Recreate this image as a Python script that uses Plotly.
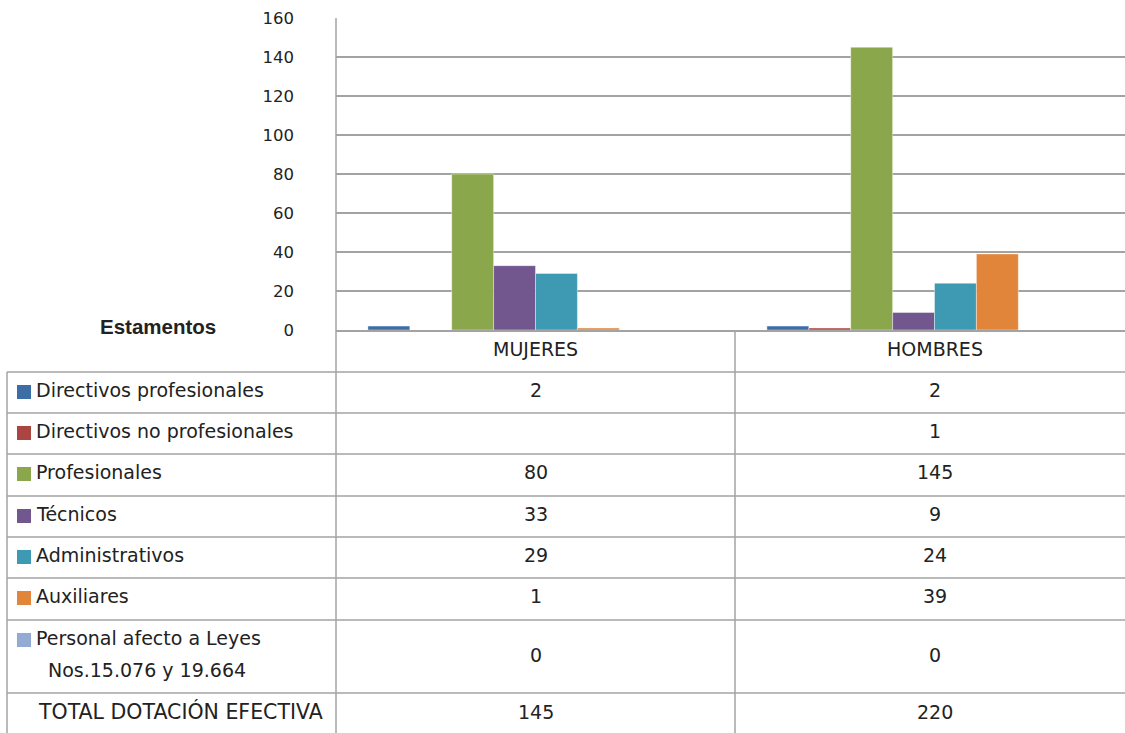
import plotly.graph_objects as go

categories = ["MUJERES", "HOMBRES"]
series_names = [
    "Directivos profesionales",
    "Directivos no profesionales",
    "Profesionales",
    "Técnicos",
    "Administrativos",
    "Auxiliares",
    "Personal afecto a Leyes\nNos.15.076 y 19.664",
]
directivos_prof = [2, 2]
directivos_no_prof = [None, 1]
profesionales = [80, 145]
tecnicos = [33, 9]
administrativos = [29, 24]
auxiliares = [1, 39]
personal_leyes = [0, 0]
total_label = "TOTAL DOTACIÓN EFECTIVA"
totales = [145, 220]
y_ticks = [0, 20, 40, 60, 80, 100, 120, 140, 160]

series_values = [directivos_prof, directivos_no_prof, profesionales, tecnicos,
                 administrativos, auxiliares, personal_leyes]
colors = ["#3D6DA6", "#AB4542", "#8AA74C", "#72578F", "#3E9AB3", "#E0853A", "#93ABD2"]

FONT = "DejaVu Sans"
TXT = "#222222"
GRID = "#A3A3A3"

# layout geometry in pixels
W, H = 1125, 733
L, T, B = 336, 18, 330
PW, PH = W - L, B - T


def px(x):
    return (x - L) / PW


def py(y):
    return (B - y) / PH


fig = go.Figure()
bar_w = 0.105
for i, (name, vals, col) in enumerate(zip(series_names, series_values, colors)):
    fig.add_trace(go.Bar(
        x=categories, y=vals, name=name.replace("\n", " "),
        marker=dict(color=col, line=dict(color="rgba(255,255,255,0.5)", width=0.8)),
        width=bar_w, offset=-0.42 + i * bar_w,
        showlegend=False,
    ))

shapes = []
line = dict(color=GRID, width=1.5)
row_tops = [372, 413, 454, 496, 537, 578, 620, 693]
for yv in row_tops:
    shapes.append(dict(type="line", xref="paper", yref="paper",
                       x0=px(7), x1=px(W), y0=py(yv), y1=py(yv), line=line))
shapes.append(dict(type="line", xref="paper", yref="paper",
                   x0=px(7), x1=px(7), y0=py(372), y1=py(H), line=line))
shapes.append(dict(type="line", xref="paper", yref="paper",
                   x0=px(L), x1=px(L), y0=py(T), y1=py(H), line=line))
shapes.append(dict(type="line", xref="paper", yref="paper",
                   x0=px(735), x1=px(735), y0=py(B), y1=py(H), line=line))

annotations = []
fnt = dict(family=FONT, size=19, color=TXT)
# category labels
for c in categories:
    annotations.append(dict(x=c, xref="x", y=py(349), yref="paper", text=c,
                            showarrow=False, font=fnt, xanchor="center", yanchor="middle"))
annotations.append(dict(x=px(218), xref="paper", y=py(326), yref="paper", text="<b>Estamentos</b>",
                        showarrow=False, font=dict(family="Liberation Sans", size=20.5, color=TXT),
                        xanchor="right", yanchor="middle"))

text_centers = [390, 431, 472, 514, 555, 596]
for i, (name, vals, col) in enumerate(zip(series_names, series_values, colors)):
    lines = name.split("\n")
    if len(lines) == 1:
        cy = text_centers[i]
        annotations.append(dict(x=px(34), xref="paper", y=py(cy), yref="paper", text=lines[0],
                                showarrow=False, font=fnt, xanchor="left", yanchor="middle"))
        key_c = cy + 2
        val_c = cy
    else:
        annotations.append(dict(x=px(34), xref="paper", y=py(638), yref="paper", text=lines[0],
                                showarrow=False, font=fnt, xanchor="left", yanchor="middle"))
        annotations.append(dict(x=px(46), xref="paper", y=py(670), yref="paper", text=lines[1],
                                showarrow=False, font=fnt, xanchor="left", yanchor="middle"))
        key_c = 640
        val_c = 655
    shapes.append(dict(type="rect", xref="paper", yref="paper",
                       x0=px(17), x1=px(31), y0=py(key_c - 7), y1=py(key_c + 7),
                       fillcolor=col, line=dict(width=0)))
    for c, v in zip(categories, vals):
        annotations.append(dict(x=c, xref="x", y=py(val_c), yref="paper",
                                text="" if v is None else str(v),
                                showarrow=False, font=fnt, xanchor="center", yanchor="middle"))

annotations.append(dict(x=px(36), xref="paper", y=py(711), yref="paper", text=total_label,
                        showarrow=False, font=dict(family=FONT, size=20.5, color=TXT),
                        xanchor="left", yanchor="middle"))
for c, v in zip(categories, totales):
    annotations.append(dict(x=c, xref="x", y=py(712), yref="paper", text=str(v),
                            showarrow=False, font=fnt, xanchor="center", yanchor="middle"))

fig.update_layout(
    width=W, height=H, autosize=False,
    margin=dict(l=L, r=0, t=T, b=H - B, pad=0),
    paper_bgcolor="white", plot_bgcolor="white",
    barmode="group",
    shapes=shapes, annotations=annotations,
    xaxis=dict(type="category", range=[-0.5, 1.4774], showticklabels=False,
               showgrid=False, showline=True, linecolor=GRID, linewidth=1.5, zeroline=False),
    yaxis=dict(range=[0, 160], tickvals=y_ticks, showgrid=True, gridcolor=GRID, gridwidth=1.5,
               zeroline=False, showline=False, ticks="", ticklabelstandoff=41,
               tickfont=dict(family=FONT, size=16.5, color=TXT)),
)

fig.write_html("out.html", config={"displayModeBar": False},
               post_script="document.body.style.margin='0';document.body.style.overflow='hidden';")
